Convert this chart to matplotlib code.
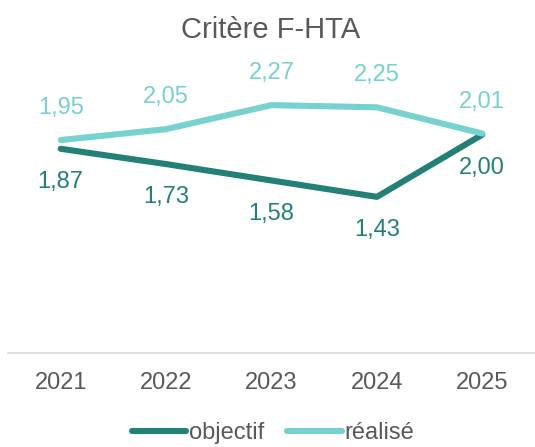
import matplotlib
matplotlib.use("Agg")
import matplotlib.pyplot as plt

plt.rcParams['font.family'] = ['Liberation Sans', 'DejaVu Sans']

years = ["2021", "2022", "2023", "2024", "2025"]
objectif = [1.87, 1.73, 1.58, 1.43, 2.00]
realise = [1.95, 2.05, 2.27, 2.25, 2.01]
obj_labels = ["1,87", "1,73", "1,58", "1,43", "2,00"]
real_labels = ["1,95", "2,05", "2,27", "2,25", "2,01"]

c_obj = "#238079"
c_real = "#76d1cf"
gray = "#595959"

fig = plt.figure(figsize=(5.35, 4.47), dpi=100)
ax = fig.add_axes([0.015, 0.2103, 0.985, 0.6107])
x = list(range(len(years)))
ax.plot(x, objectif, color=c_obj, lw=4.4, solid_capstyle='round', solid_joinstyle='round', label="objectif")
ax.plot(x, realise, color=c_real, lw=4.4, solid_capstyle='round', solid_joinstyle='round', label="réalisé")

for xi, v, t in zip(x, objectif, obj_labels):
    ax.annotate(t, (xi, v), xytext=(0, -24), textcoords='offset points',
                ha='center', va='center', fontsize=17, color=c_obj)
for xi, v, t in zip(x, realise, real_labels):
    ax.annotate(t, (xi, v), xytext=(0, 23), textcoords='offset points',
                ha='center', va='center', fontsize=17, color=c_real)

ax.set_xlim(-0.5, 4.5)
ax.set_ylim(0, 2.5)
ax.set_xticks(x)
ax.set_xticklabels(years, fontsize=17, color=gray)
ax.tick_params(axis='x', length=0, pad=14)
ax.set_yticks([])
for s in ['top', 'right', 'left']:
    ax.spines[s].set_visible(False)
ax.spines['bottom'].set_color('#d9d9d9')
ax.spines['bottom'].set_linewidth(1.2)

fig.text(0.505, 0.932, "Critère F-HTA", ha='center', va='center', fontsize=21, color=gray)

leg = fig.legend(loc='center', bbox_to_anchor=(0.51, 0.031), ncol=2, frameon=False,
                 fontsize=17, handlelength=2.3, handletextpad=0.1, columnspacing=1.0,
                 borderaxespad=0)
for t in leg.get_texts():
    t.set_color(gray)

fig.savefig("out.png", dpi=100)
